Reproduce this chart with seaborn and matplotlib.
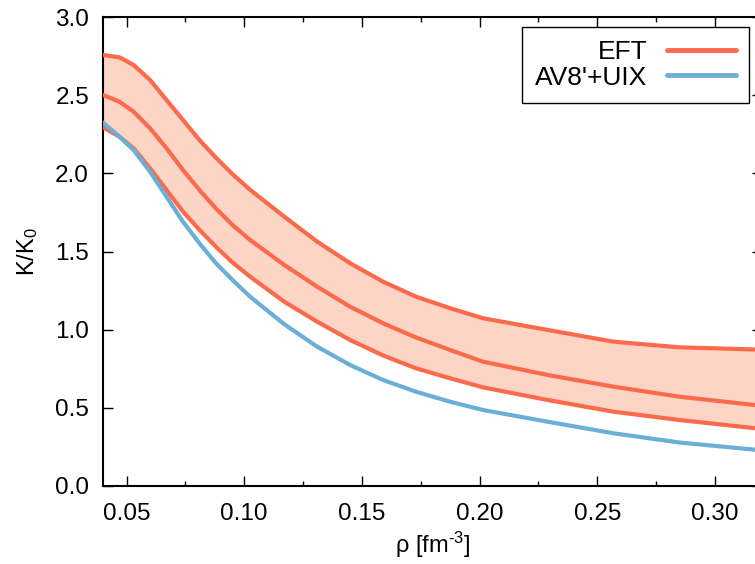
import numpy as np
import pandas as pd
import matplotlib
matplotlib.use("Agg")
import matplotlib.pyplot as plt
import seaborn as sns
from matplotlib.ticker import MultipleLocator
from matplotlib.lines import Line2D

# ---- data ----
rho = [0.040, 0.047, 0.053, 0.060, 0.067, 0.074, 0.081, 0.088, 0.095, 0.1025,
       0.117, 0.131, 0.145, 0.159, 0.173, 0.1875, 0.2015, 0.229, 0.257, 0.285, 0.320]
eft_upper = [2.757, 2.742, 2.693, 2.597, 2.469, 2.341, 2.213, 2.100, 1.995, 1.895,
             1.723, 1.563, 1.425, 1.307, 1.211, 1.137, 1.073, 0.998, 0.923, 0.887, 0.872]
eft_mid = [2.501, 2.458, 2.394, 2.288, 2.160, 2.021, 1.893, 1.775, 1.670, 1.574,
           1.414, 1.275, 1.147, 1.041, 0.950, 0.870, 0.795, 0.710, 0.635, 0.571, 0.513]
eft_lower = [2.294, 2.234, 2.160, 2.032, 1.893, 1.755, 1.638, 1.530, 1.430, 1.339,
             1.179, 1.051, 0.934, 0.835, 0.753, 0.689, 0.631, 0.550, 0.475, 0.422, 0.365]
av8_uix = [2.324, 2.234, 2.149, 2.010, 1.850, 1.690, 1.552, 1.425, 1.318, 1.211,
           1.035, 0.891, 0.774, 0.678, 0.603, 0.539, 0.486, 0.411, 0.337, 0.278, 0.228]

x_ticks = [0.05, 0.10, 0.15, 0.20, 0.25, 0.30]
x_ticklabels = ["0.05", "0.10", "0.15", "0.20", "0.25", "0.30"]
y_ticks = [0.0, 0.5, 1.0, 1.5, 2.0, 2.5, 3.0]
y_ticklabels = ["0.0", "0.5", "1.0", "1.5", "2.0", "2.5", "3.0"]
legend_labels = ["EFT", "AV8'+UIX"]

C_EFT = "#fb6a4a"
C_FILL = "#fdd5c7"
C_AV = "#6baed6"

sns.set_theme(style="ticks")
plt.rcParams["font.family"] = ["Liberation Sans", "DejaVu Sans"]
plt.rcParams["mathtext.fontset"] = "custom"
plt.rcParams["mathtext.rm"] = "Liberation Sans"
plt.rcParams["mathtext.it"] = "Liberation Sans:italic"
plt.rcParams["mathtext.bf"] = "Liberation Sans:bold"
for k in ["text.color", "axes.labelcolor", "xtick.color", "ytick.color",
          "xtick.labelcolor", "ytick.labelcolor"]:
    plt.rcParams[k] = "black"

df = pd.DataFrame({
    "rho": rho * 4,
    "K": eft_upper + eft_mid + eft_lower + av8_uix,
    "curve": ["upper"] * len(rho) + ["mid"] * len(rho) + ["lower"] * len(rho) + ["av8"] * len(rho),
})

fig = plt.figure(figsize=(7.55, 5.64), dpi=100)
ax = fig.add_axes([103 / 755, 78 / 564, 659 / 755, 469 / 564])

ax.fill_between(rho, eft_lower, eft_upper, color=C_FILL, lw=0, zorder=1)
for name in ["upper", "mid", "lower"]:
    sns.lineplot(data=df[df.curve == name], x="rho", y="K", ax=ax, color=C_EFT,
                 lw=3.0, sort=False, estimator=None, zorder=3, legend=False)
sns.lineplot(data=df[df.curve == "av8"], x="rho", y="K", ax=ax, color=C_AV,
             lw=3.0, sort=False, estimator=None, zorder=4, legend=False)

ax.set_xlim(0.04, 0.32)
ax.set_ylim(0, 3.0)
ax.set_xticks(x_ticks)
ax.set_xticklabels(x_ticklabels)
ax.set_yticks(y_ticks)
ax.set_yticklabels(y_ticklabels)
ax.xaxis.set_minor_locator(MultipleLocator(0.025))

ax.tick_params(which="both", direction="in", top=True, right=True,
               labelsize=17.5, width=1.0, color="black")
ax.tick_params(which="major", length=7.5)
ax.tick_params(which="minor", length=3.8)
ax.tick_params(axis="x", pad=12)
ax.tick_params(axis="y", pad=10)
for s in ax.spines.values():
    s.set_linewidth(1.5)
    s.set_color("black")
    s.set_visible(True)

ax.set_xlabel(r"ρ [fm$^{\text{-3}}$]", fontsize=17, labelpad=4)
ax.set_ylabel(r"K/K$_{\mathregular{0}}$", fontsize=17, labelpad=11)

handles = [Line2D([], [], color=C_EFT, lw=3.5), Line2D([], [], color=C_AV, lw=3.5)]
leg = ax.legend(handles, legend_labels, loc="upper right",
                bbox_to_anchor=(749 / 755, 1 - 27 / 564), bbox_transform=fig.transFigure,
                markerfirst=False, fontsize=19, frameon=True, fancybox=False,
                handlelength=2.6, handletextpad=0.75, borderpad=0.5,
                labelspacing=0.05, borderaxespad=0)
leg.get_frame().set_edgecolor("black")
leg.get_frame().set_linewidth(1.0)
leg.get_frame().set_alpha(1)
for t in leg.get_texts():
    t.set_ha("right")
leg._legend_box.align = "right"

fig.savefig("out.png", dpi=100)
